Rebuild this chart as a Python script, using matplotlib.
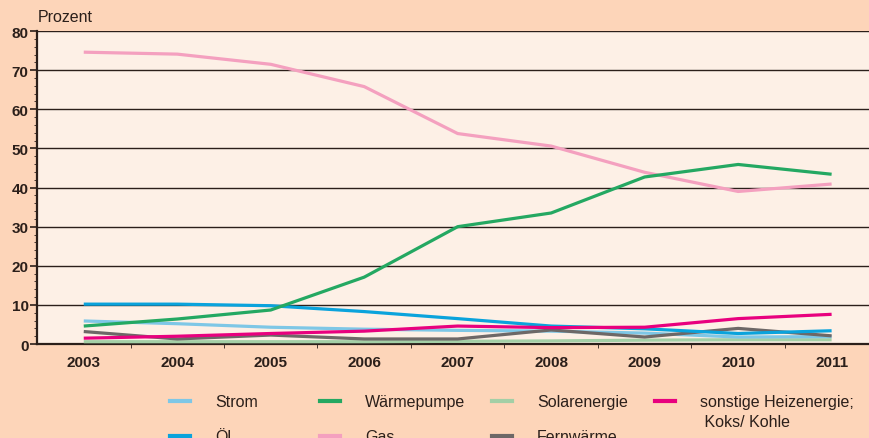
import matplotlib.pyplot as plt
from matplotlib.lines import Line2D
from matplotlib.ticker import MultipleLocator, FixedLocator

plt.rcParams['font.family'] = ['Liberation Sans', 'DejaVu Sans']

years = [2003, 2004, 2005, 2006, 2007, 2008, 2009, 2010, 2011]

strom = [5.9, 5.2, 4.3, 3.8, 3.5, 3.3, 2.8, 1.8, 1.9]
oel = [10.2, 10.2, 9.8, 8.3, 6.5, 4.6, 3.9, 2.7, 3.4]
waermepumpe = [4.6, 6.4, 8.7, 17.1, 30.0, 33.5, 42.7, 45.9, 43.4]
gas = [74.6, 74.1, 71.5, 65.8, 53.8, 50.6, 43.9, 39.0, 40.9]
solar = [0.6, 0.6, 0.6, 0.6, 0.7, 0.8, 1.0, 1.1, 1.1]
fernwaerme = [3.2, 1.3, 2.3, 1.3, 1.3, 3.6, 1.8, 4.0, 2.1]
sonstige = [1.5, 2.0, 2.7, 3.3, 4.6, 4.2, 4.3, 6.5, 7.6]

series = [
    ("Strom", strom, "#7ec7e6"),
    ("Öl", oel, "#0aa3dc"),
    ("Wärmepumpe", waermepumpe, "#24a862"),
    ("Gas", gas, "#f4a0bf"),
    ("Solarenergie", solar, "#a3cfa6"),
    ("Fernwärme", fernwaerme, "#6d6867"),
    ("sonstige Heizenergie;\n Koks/ Kohle", sonstige, "#e8007e"),
]

outer = "#fdd5b9"
inner = "#fdf0e6"
dark = "#2b1f1a"

fig = plt.figure(figsize=(8.69, 4.39), dpi=100, facecolor=outer)
ax = fig.add_axes([0.0426, 0.214, 0.9574, 0.713], facecolor=inner)

# draw order: bottom lines first, big ones on top
for name, vals, col in [series[4], series[0], series[5], series[1], series[6], series[3], series[2]]:
    ax.plot(years, vals, color=col, lw=2.3, solid_capstyle="butt", zorder=3)

ax.set_xlim(2002.5, 2011.4)
ax.set_ylim(0, 80)
ax.yaxis.set_major_locator(MultipleLocator(10))
ax.yaxis.set_minor_locator(MultipleLocator(2))
ax.grid(axis="y", color=dark, lw=1.0, zorder=1)
ax.set_xticks(years)
ax.xaxis.set_minor_locator(FixedLocator([y + 0.5 for y in years[:-1]]))

for s in ["top", "right"]:
    ax.spines[s].set_visible(False)
for s in ["left", "bottom"]:
    ax.spines[s].set_color(dark)
    ax.spines[s].set_linewidth(1.6)

ax.tick_params(axis="y", which="major", length=5, width=1.2, color=dark,
               labelsize=11, labelcolor=dark, pad=1)
ax.tick_params(axis="y", which="minor", length=2, width=0.6, color=dark)
ax.tick_params(axis="x", which="major", length=0, labelsize=11,
               labelcolor=dark, pad=8)
ax.tick_params(axis="x", which="minor", length=3, width=0.6, color=dark)
for lab in ax.get_xticklabels() + ax.get_yticklabels():
    lab.set_fontweight("bold")

fig.text(38 / 869, 1 - 18 / 439, "Prozent", fontsize=11.5, color=dark,
         va="center", ha="left")

# hand-placed legend: 4 columns, 2 rows (second row partly cut at bottom)
col_x = [170, 320, 492, 655]
row_y = [402, 437]
W, H = 869, 439
for i, (name, _, col) in enumerate(series):
    c, r = divmod(i, 2)
    x0, y0 = col_x[c], row_y[r]
    fig.add_artist(Line2D([x0 / W, (x0 + 20) / W], [1 - y0 / H, 1 - y0 / H],
                          color=col, lw=3, transform=fig.transFigure))
    fig.text((x0 + 45) / W, 1 - (y0 - 7) / H, name, fontsize=11.5,
             color=dark, ha="left", va="top", linespacing=1.45)

fig.savefig("out.png", dpi=100, facecolor=outer)
